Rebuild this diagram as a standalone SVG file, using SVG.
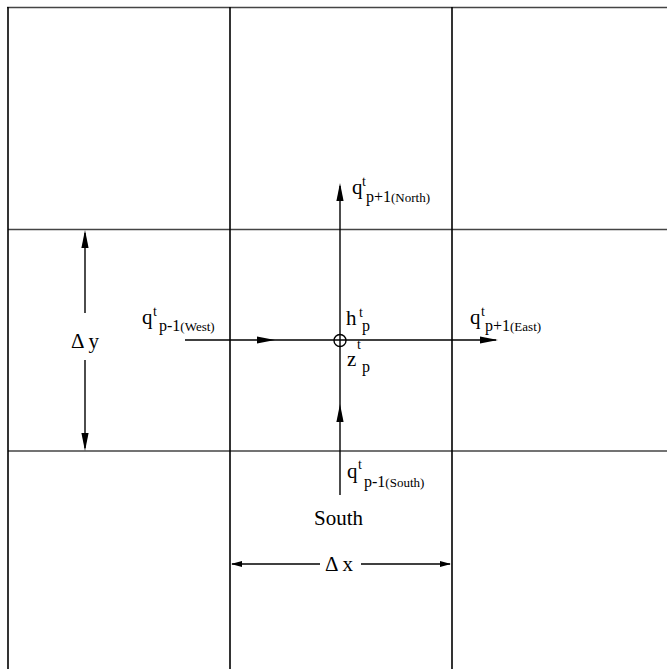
<svg xmlns="http://www.w3.org/2000/svg" width="667" height="669" viewBox="0 0 667 669">
<style>
.h{stroke:#444;stroke-width:1.6;fill:none}
.v{stroke:#000;stroke-width:1.6;fill:none}
.c{stroke:#000;stroke-width:1.4;fill:none}
.ah{fill:#000;stroke:none}
text{font-family:"Liberation Serif","Times New Roman",serif;fill:#000}
.m{font-size:21px}
.sup{font-size:14px}
.sub{font-size:16px}
.sm{font-size:13px}
</style>
<defs>
<path id="arr" d="M0,0 L-18,-3.6 L-18,3.6 Z"/>
<path id="arrs" d="M0,0 L-11,-3 L-11,3 Z"/>
</defs>
<rect width="667" height="669" fill="#fff"/>
<g id="grid">
<line class="h" x1="7" y1="7.5" x2="667" y2="7.5"/>
<line class="h" x1="8" y1="229.5" x2="667" y2="229.5"/>
<line class="h" x1="8" y1="451" x2="667" y2="451"/>
<line class="v" x1="8" y1="7" x2="8" y2="669"/>
<line class="v" x1="230" y1="7" x2="230" y2="669"/>
<line class="v" x1="452" y1="7" x2="452" y2="669"/>
</g>
<g id="connectors">
<line class="c" x1="185" y1="340" x2="496" y2="340"/>
<line class="c" x1="340" y1="186" x2="340" y2="495"/>
<use href="#arr" class="ah" transform="translate(275,340)"/>
<use href="#arr" class="ah" transform="translate(498,340)"/>
<use href="#arr" class="ah" transform="translate(340,183) rotate(-90)"/>
<use href="#arr" class="ah" transform="translate(340,404) rotate(-90)"/>
<line class="c" x1="85" y1="233" x2="85" y2="313"/>
<line class="c" x1="85" y1="360" x2="85" y2="448"/>
<use href="#arr" class="ah" transform="translate(85,230) rotate(-90)"/>
<use href="#arr" class="ah" transform="translate(85,451) rotate(90)"/>
<line class="c" x1="232" y1="564" x2="320" y2="564"/>
<line class="c" x1="361" y1="564" x2="450" y2="564"/>
<use href="#arrs" class="ah" transform="translate(231,564) rotate(180)"/>
<use href="#arrs" class="ah" transform="translate(451,564)"/>
</g>
<g id="node-p">
<circle cx="340" cy="340.5" r="6" fill="none" stroke="#000" stroke-width="1.4"/>
</g>
<g id="label-north">
<text><tspan class="m" x="352" y="194">q</tspan><tspan class="sup" x="362" y="186">t</tspan><tspan class="sub" x="366" y="202">p+1</tspan><tspan class="sm">(North)</tspan></text>
</g>
<g id="label-west">
<text><tspan class="m" x="142" y="324">q</tspan><tspan class="sup" x="153" y="316">t</tspan><tspan class="sub" x="159" y="331">p-1</tspan><tspan class="sm">(West)</tspan></text>
</g>
<g id="label-h">
<text><tspan class="m" x="346" y="325">h</tspan><tspan class="sup" x="359" y="317">t</tspan><tspan class="sub" x="362" y="331">p</tspan></text>
</g>
<g id="label-z">
<text><tspan class="m" x="347" y="366">z</tspan><tspan class="sup" x="357" y="349">t</tspan><tspan class="sub" x="362" y="372">p</tspan></text>
</g>
<g id="label-east">
<text><tspan class="m" x="470" y="324">q</tspan><tspan class="sup" x="481" y="316">t</tspan><tspan class="sub" x="485" y="331">p+1</tspan><tspan class="sm">(East)</tspan></text>
</g>
<g id="label-south">
<text><tspan class="m" x="347" y="478">q</tspan><tspan class="sup" x="358" y="469">t</tspan><tspan class="sub" x="364" y="487">p-1</tspan><tspan class="sm">(South)</tspan></text>
<text class="m" x="314" y="525">South</text>
</g>
<g id="label-dx">
<text class="m" x="339" y="571" text-anchor="middle">Δ x</text>
</g>
<g id="label-dy">
<text class="m" x="85" y="348" text-anchor="middle">Δ y</text>
</g>
</svg>
